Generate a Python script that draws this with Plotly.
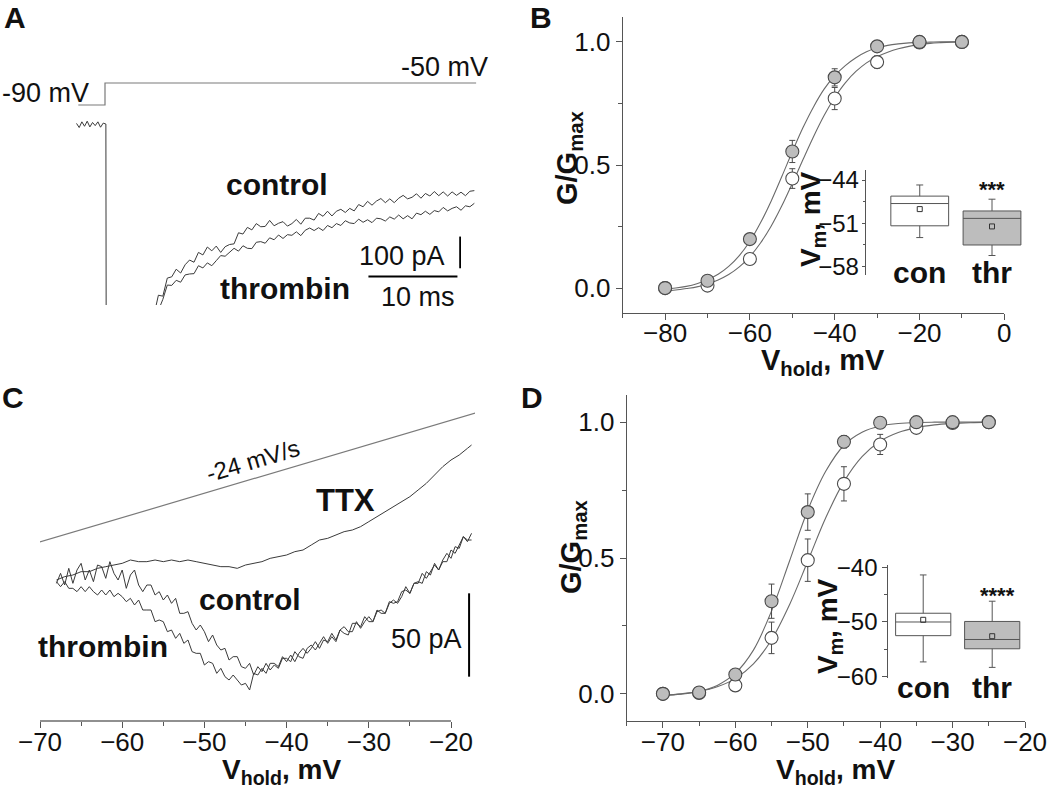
import plotly.graph_objects as go

W, H = 1050, 789
FONT = "Liberation Sans, Arial, Helvetica, sans-serif"
TXT = "#111111"
AX = "#555555"
TRACE = "#3a3a3a"
LIGHT = "#7a7a7a"
FILL_GRAY = "#bdbdbd"

# ---------------- Panel A : Na current at a step to -50 mV ----------------
a_step_t = [-3.0, 0.0, 0.0, 41.7]          # ms
a_step_mv = [-90, -90, -50, -50]           # mV
a_base_t = [-3.2, -2.9, -2.6, -2.3, -2.0, -1.7, -1.4, -1.1, -0.8, -0.5, -0.2, 0.1]
a_base_pa = [5, -8, 10, -4, 12, -6, 8, -2, 10, -7, 6, 3]
a_peak_t = [0.25, 3.0]
a_peak_pa = [-3000, -1200]
a_t = [5.5, 6.0, 6.5, 7.0, 7.5, 8.0, 8.5, 9.0, 9.5, 10.0, 10.5, 11.0, 11.5, 12.0, 12.5,
       13.0, 13.5, 14.0, 14.5, 15.0, 15.5, 16.0, 16.5, 17.0, 17.5, 18.0, 18.5, 19.0, 19.5,
       20.0, 20.5, 21.0, 21.5, 22.0, 22.5, 23.0, 23.5, 24.0, 24.5, 25.0, 25.5, 26.0, 26.5,
       27.0, 27.5, 28.0, 28.5, 29.0, 29.5, 30.0, 30.5, 31.0, 31.5, 32.0, 32.5, 33.0, 33.5,
       34.0, 34.5, 35.0, 35.5, 36.0, 36.5, 37.0, 37.5, 38.0, 38.5, 39.0, 39.5, 40.0, 40.5,
       41.0, 41.5]
a_control_pa = [-600, -537, -540, -483, -479, -455, -467, -441, -426, -433,
                -402, -410, -385, -397, -382, -402, -384, -377, -375, -340,
                -344, -323, -331, -311, -321, -320, -301, -318, -310, -305,
                -319, -311, -298, -313, -294, -294, -300, -279, -288, -272,
                -287, -272, -266, -276, -263, -271, -251, -258, -241, -253,
                -240, -232, -245, -233, -245, -231, -222, -233, -228, -217,
                -231, -216, -224, -210, -223, -211, -224, -211, -222, -212,
                -223, -209, -207]
a_thrombin_pa = [-640, -585, -550, -505, -506, -490, -496, -473, -470, -469,
                 -444, -451, -435, -444, -428, -412, -414, -402, -389, -398,
                 -381, -389, -390, -370, -368, -373, -356, -362, -347, -358,
                 -346, -348, -337, -349, -332, -325, -333, -324, -333, -317,
                 -324, -311, -317, -302, -309, -311, -297, -307, -299, -308,
                 -294, -296, -303, -290, -297, -284, -296, -286, -296, -278,
                 -283, -272, -282, -270, -274, -260, -271, -263, -258, -269,
                 -255, -258, -247]
a_bar_t = 39.9          # ms, position of vertical scale bar
a_bar_pa = [-452, -352]  # 100 pA
a_hbar_t = [29.6, 39.6]  # 10 ms
a_hbar_pa = -478

# ---------------- Panel B : activation curves ----------------
b_v = [-80, -70, -60, -50, -40, -30, -20, -10]
b_con = [0.0, 0.01, 0.118, 0.445, 0.770, 0.918, 0.998, 1.0]
b_con_err = [0.01, 0.015, 0.02, 0.04, 0.045, 0.025, 0.012, 0.0]
b_thr = [0.0, 0.03, 0.199, 0.555, 0.856, 0.982, 1.0, 1.0]
b_thr_err = [0.01, 0.015, 0.01, 0.045, 0.035, 0.015, 0.012, 0.0]
b_fit_v = [-80, -77.5, -75, -72.5, -70, -67.5, -65, -62.5, -60, -57.5, -55, -52.5, -50,
           -47.5, -45, -42.5, -40, -37.5, -35, -32.5, -30, -27.5, -25, -22.5, -20,
           -17.5, -15, -12.5, -10]
b_fit_thr = [-0.005, 0.0, 0.007, 0.018, 0.034, 0.056, 0.088, 0.132, 0.19, 0.265, 0.353,
             0.452, 0.554, 0.651, 0.736, 0.808, 0.863, 0.904, 0.936, 0.960, 0.976, 0.986,
             0.992, 0.996, 0.998, 0.999, 1.0, 1.0, 1.0]
b_fit_con = [-0.012, -0.008, -0.002, 0.005, 0.017, 0.033, 0.055, 0.086, 0.128, 0.183,
             0.251, 0.333, 0.425, 0.521, 0.615, 0.701, 0.774, 0.834, 0.880, 0.915, 0.940,
             0.958, 0.972, 0.982, 0.989, 0.994, 0.997, 0.999, 1.0]
# inset box statistics (Vm, mV)
bi_q1 = [-51.4, -54.5]
bi_med = [-47.8, -50.2]
bi_q3 = [-46.6, -49.0]
bi_lo = [-53.3, -56.2]
bi_hi = [-44.8, -47.1]
bi_mean = [-48.7, -51.5]

# ---------------- Panel C : ramp currents ----------------
c_ramp_v = [-70.8, -16.5]
c_v = [-68.0, -67.5, -67.0, -66.5, -66.0, -65.5, -65.0, -64.5, -64.0, -63.5,
       -63.0, -62.5, -62.0, -61.5, -61.0, -60.5, -60.0, -59.5, -59.0, -58.5,
       -58.0, -57.5, -57.0, -56.5, -56.0, -55.5, -55.0, -54.5, -54.0, -53.5,
       -53.0, -52.5, -52.0, -51.5, -51.0, -50.5, -50.0, -49.5, -49.0, -48.5,
       -48.0, -47.5, -47.0, -46.5, -46.0, -45.5, -45.0, -44.5, -44.0, -43.5,
       -43.0, -42.5, -42.0, -41.5, -41.0, -40.5, -40.0, -39.5, -39.0, -38.5,
       -38.0, -37.5, -37.0, -36.5, -36.0, -35.5, -35.0, -34.5, -34.0, -33.5,
       -33.0, -32.5, -32.0, -31.5, -31.0, -30.5, -30.0, -29.5, -29.0, -28.5,
       -28.0, -27.5, -27.0, -26.5, -26.0, -25.5, -25.0, -24.5, -24.0, -23.5,
       -23.0, -22.5, -22.0, -21.5, -21.0, -20.5, -20.0, -19.5, -19.0, -18.5,
       -18.0, -17.5]
c_control_pa = [-2, 4, -3, 7, -2, 6, 10, 0, 6, -1,
                9, 8, 1, 11, 4, 0, 6, -5, 3, 6,
                -3, -7, -3, -3, -9, -7, -12, -9, -14, -11,
                -20, -20, -19, -26, -30, -27, -31, -37, -33, -39,
                -42, -41, -48, -46, -46, -52, -53, -50, -57, -52,
                -55, -50, -54, -51, -53, -47, -47, -49, -43, -46,
                -47, -41, -39, -42, -38, -34, -38, -34, -37, -30,
                -28, -31, -31, -25, -29, -25, -22, -25, -18, -20,
                -20, -13, -14, -13, -7, -6, -8, -2, -2, 4,
                1, 5, 9, 6, 12, 16, 13, 20, 19, 26,
                23, 28]
c_thrombin_pa = [-1, -4, -1, -5, -5, -7, -4, -7, -4, -7,
                 -9, -6, -9, -6, -10, -8, -10, -13, -11, -15,
                 -12, -18, -18, -18, -25, -24, -25, -31, -30, -35,
                 -32, -38, -36, -43, -44, -44, -51, -49, -50, -56,
                 -53, -58, -60, -57, -60, -63, -62, -66, -56, -57,
                 -53, -56, -50, -50, -52, -46, -49, -45, -49, -44,
                 -41, -44, -41, -37, -41, -36, -37, -32, -36, -30,
                 -32, -33, -26, -26, -28, -22, -25, -25, -19, -18,
                 -20, -14, -12, -14, -10, -4, -8, -2, -1, -2,
                 5, 3, 10, 6, 11, 11, 18, 16, 21, 26,
                 24, 24]
c_ttx_v = [-68, -67, -66, -65, -64, -63, -62, -61, -60, -59,
           -58, -57, -56, -55, -54, -53, -52, -51, -50, -49,
           -48, -47, -46, -45, -44, -43, -42, -41, -40, -39,
           -38, -37, -36, -35, -34, -33, -32, -31, -30, -29,
           -28, -27, -26, -25, -24, -23, -22, -21, -20, -19,
           -18, -17.5]
c_ttx_pa = [0, 2, 3, 5, 5, 7, 8, 9, 10, 12,
            11, 11, 12, 11, 12, 11, 12, 11, 10, 9,
            8, 8, 7, 9, 10, 11, 13, 14, 15, 17,
            18, 21, 24, 25, 27, 29, 30, 32, 35, 38,
            41, 44, 47, 50, 54, 58, 63, 68, 72, 75,
            79, 81]
c_bar_v = -17.8
c_bar_pa = [-58, -8]   # 50 pA
c_ticks = [-70, -60, -50, -40, -30, -20]

# ---------------- Panel D : activation curves ----------------
d_v = [-70, -65, -60, -55, -50, -45, -40, -35, -30, -25]
d_con = [0.0, 0.003, 0.031, 0.206, 0.492, 0.773, 0.918, 0.979, 0.997, 1.0]
d_con_err = [0.01, 0.008, 0.015, 0.058, 0.078, 0.063, 0.037, 0.01, 0.005, 0.0]
d_thr = [0.0, 0.005, 0.071, 0.341, 0.669, 0.928, 0.998, 1.0, 1.0, 1.0]
d_thr_err = [0.01, 0.01, 0.01, 0.063, 0.067, 0.023, 0.012, 0.005, 0.01, 0.0]
d_fit_v = [-70, -67.5, -65, -62.5, -60, -57.5, -55, -52.5, -50, -47.5, -45, -42.5, -40,
           -37.5, -35, -32.5, -30, -27.5, -25]
d_fit_thr = [-0.006, -0.001, 0.009, 0.031, 0.076, 0.161, 0.305, 0.49, 0.676, 0.82, 0.915,
             0.963, 0.986, 0.995, 0.999, 1.0, 1.0, 1.0, 1.0]
d_fit_con = [-0.005, 0.0, 0.009, 0.026, 0.056, 0.110, 0.199, 0.329, 0.488, 0.649, 0.781,
             0.873, 0.930, 0.962, 0.980, 0.990, 0.995, 0.998, 1.0]
di_q1 = [-52.5, -54.9]
di_med = [-50.0, -53.2]
di_q3 = [-48.4, -49.9]
di_lo = [-57.3, -58.3]
di_hi = [-41.4, -46.2]
di_mean = [-49.6, -52.6]

groups = ["con", "thr"]
group_pos = [1, 2]


# ---------------- helpers ----------------
def fx(px):
    return px / W


def fy(py):
    return 1 - py / H


fig = go.Figure()


def line(x, y, xa, ya, color=TRACE, width=1.0, shape="linear"):
    fig.add_trace(go.Scatter(x=x, y=y, xaxis=xa, yaxis=ya, mode="lines",
                             line=dict(color=color, width=width, shape=shape),
                             showlegend=False, hoverinfo="skip"))


# Panel A
line(a_step_t, a_step_mv, "x", "y2", color=LIGHT, width=1.2)
line(a_base_t + a_peak_t + a_t, a_base_pa + a_peak_pa + a_control_pa, "x", "y", width=1.0)
line(a_peak_t + a_t, a_peak_pa + a_thrombin_pa, "x", "y", width=1.0)
line([a_bar_t, a_bar_t], a_bar_pa, "x", "y", color="#000", width=1.8)
line(a_hbar_t, [a_hbar_pa, a_hbar_pa], "x", "y", color="#000", width=1.8)


# Panels B and D
def act_panel(xa, ya, v, fv, fcon, fthr, con, con_err, thr, thr_err):
    line(fv, fcon, xa, ya, color="#6a6a6a", width=1.1, shape="spline")
    line(fv, fthr, xa, ya, color="#6a6a6a", width=1.1, shape="spline")
    fig.add_trace(go.Scatter(x=v, y=con, xaxis=xa, yaxis=ya, mode="markers",
                             marker=dict(size=13, color="white", line=dict(color="#4a4a4a", width=1.1)),
                             error_y=dict(type="data", array=con_err, color="#4a4a4a", thickness=1, width=3),
                             showlegend=False, hoverinfo="skip"))
    fig.add_trace(go.Scatter(x=v, y=thr, xaxis=xa, yaxis=ya, mode="markers",
                             marker=dict(size=13, color=FILL_GRAY, line=dict(color="#4a4a4a", width=1.1)),
                             error_y=dict(type="data", array=thr_err, color="#4a4a4a", thickness=1, width=3),
                             showlegend=False, hoverinfo="skip"))


act_panel("x2", "y3", b_v, b_fit_v, b_fit_con, b_fit_thr, b_con, b_con_err, b_thr, b_thr_err)
act_panel("x5", "y7", d_v, d_fit_v, d_fit_con, d_fit_thr, d_con, d_con_err, d_thr, d_thr_err)


def inset(xa, ya, q1, med, q3, lo, hi, mean):
    fills = ["white", FILL_GRAY]
    for i in range(2):
        fig.add_trace(go.Box(x=[group_pos[i]], q1=[q1[i]], median=[med[i]], q3=[q3[i]],
                             lowerfence=[lo[i]], upperfence=[hi[i]], xaxis=xa, yaxis=ya,
                             width=0.8, whiskerwidth=0.12, fillcolor=fills[i],
                             line=dict(color="#555555", width=1), boxpoints=False,
                             showlegend=False, hoverinfo="skip"))
    fig.add_trace(go.Scatter(x=group_pos, y=mean, xaxis=xa, yaxis=ya, mode="markers",
                             marker=dict(symbol="square-open", size=5, color="#333",
                                         line=dict(width=1, color="#333")),
                             showlegend=False, hoverinfo="skip"))


inset("x3", "y4", bi_q1, bi_med, bi_q3, bi_lo, bi_hi, bi_mean)
inset("x6", "y8", di_q1, di_med, di_q3, di_lo, di_hi, di_mean)

# Panel C
line(c_ramp_v, c_ramp_v, "x4", "y6", color=LIGHT, width=1.2)
line(c_ttx_v, c_ttx_pa, "x4", "y5", width=1.0)
line(c_v, c_control_pa, "x4", "y5", width=1.0)
line(c_v, c_thrombin_pa, "x4", "y5", width=1.0)
line([c_bar_v, c_bar_v], c_bar_pa, "x4", "y5", color="#000", width=2)

# ---------------- axes ----------------
hidden = dict(visible=False, showgrid=False, zeroline=False)
tickfont = dict(family=FONT, size=26, color=TXT)
insetfont = dict(family=FONT, size=24, color=TXT)


def main_axis(domain, rng, **kw):
    d = dict(domain=domain, range=rng, showgrid=False, zeroline=False, showline=True,
             linecolor=AX, linewidth=1, ticks="outside", ticklen=6, tickcolor=AX,
             tickwidth=1, tickfont=tickfont, automargin=False)
    d.update(kw)
    return d


layout = dict(
    width=W, height=H, margin=dict(l=0, r=0, t=0, b=0, pad=0, autoexpand=False),
    paper_bgcolor="white", plot_bgcolor="rgba(0,0,0,0)", showlegend=False,
    font=dict(family=FONT, color=TXT),
    # Panel A
    xaxis=dict(hidden, domain=[fx(70), fx(480)], range=[-3.933, 42.135], anchor="y"),
    yaxis=dict(hidden, domain=[fy(305), fy(40)], range=[-567.9, 268.2], anchor="x"),
    yaxis2=dict(hidden, overlaying="y", range=[-453.6, 28.2], anchor="x"),
    # Panel B
    xaxis2=main_axis([fx(622.7), fx(1004.3)], [-90, 0], anchor="y3",
                     tickvals=[-80, -60, -40, -20, 0], ticklabelstandoff=-9,
                     minor=dict(tickvals=[-90, -70, -50, -30, -10], ticks="outside", ticklen=4, tickcolor=AX)),
    yaxis3=main_axis([fy(312.7), fy(17.3)], [-0.1, 1.1], anchor="x2",
                     tickvals=[0, 0.5, 1.0], ticktext=["0.0", "0.5", "1.0"],
                     minor=dict(tickvals=[0.25, 0.75], ticks="outside", ticklen=4, tickcolor=AX)),
    # Panel B inset
    xaxis3=dict(hidden, domain=[fx(865.7), fx(1030)], range=[0.252, 2.526], anchor="y4"),
    yaxis4=main_axis([fy(275), fy(170)], [-59.35, -42.38], anchor="x3", tickfont=insetfont,
                     tickvals=[-58, -51, -44], ticklen=3, ticklabelstandoff=-2,
                     minor=dict(tickvals=[-54.5, -47.5], ticks="outside", ticklen=2, tickcolor=AX)),
    # Panel C
    xaxis4=main_axis([fx(40), fx(475)], [-70, -17.08], anchor="y5", showline=False,
                     tickvals=c_ticks, ticklabelstandoff=-8,
                     minor=dict(tickvals=[-65, -55, -45, -35, -25], ticks="outside", ticklen=4, tickcolor=AX)),
    yaxis5=dict(hidden, domain=[fy(721), fy(400)], range=[-84.6, 108], anchor="x4"),
    yaxis6=dict(hidden, overlaying="y5", range=[-143.5, -11.7], anchor="x4"),
    # Panel D
    xaxis5=main_axis([fx(626.7), fx(1025)], [-75, -20], anchor="y7",
                     tickvals=[-70, -60, -50, -40, -30, -20], ticklabelstandoff=-8,
                     minor=dict(tickvals=[-75, -65, -55, -45, -35, -25], ticks="outside", ticklen=4, tickcolor=AX)),
    yaxis7=main_axis([fy(721), fy(395)], [-0.1, 1.1], anchor="x5",
                     tickvals=[0, 0.5, 1.0], ticktext=["0.0", "0.5", "1.0"],
                     minor=dict(tickvals=[0.25, 0.75], ticks="outside", ticklen=4, tickcolor=AX)),
    # Panel D inset
    xaxis6=dict(hidden, domain=[fx(888.3), fx(1030)], range=[0.494, 2.548], anchor="y8"),
    yaxis8=main_axis([fy(678), fy(565)], [-60.24, -39.58], anchor="x6", tickfont=insetfont,
                     tickvals=[-60, -50, -40], ticklen=5,
                     minor=dict(tickvals=[-55, -45], ticks="outside", ticklen=3, tickcolor=AX)),
)
fig.update_layout(**layout)

# C axis line spanning only the labelled range
fig.add_shape(type="line", xref="x4", yref="y5 domain", x0=c_ticks[0], x1=c_ticks[-1], y0=0, y1=0,
              line=dict(color="#222", width=1.2))

# ---------------- text ----------------
anns = []


def ann(text, x, y, size, bold=False, xanchor="center", yanchor="middle", angle=0,
        xref="paper", yref="paper", color=TXT):
    t = "<b>%s</b>" % text if bold else text
    anns.append(dict(text=t, x=x, y=y, xref=xref, yref=yref, showarrow=False,
                     xanchor=xanchor, yanchor=yanchor, textangle=angle,
                     font=dict(family=FONT, size=size, color=color)))


# panel letters
ann("A", fx(15), fy(18), 30, True)
ann("B", fx(541), fy(17), 30, True)
ann("C", fx(13), fy(397), 30, True)
ann("D", fx(532), fy(397), 30, True)

# Panel A texts
ann("-90 mV", fx(0), fy(93), 27, xanchor="left")
ann("-50 mV", fx(444), fy(67), 27)
ann("control", fx(277), fy(185), 30, True)
ann("thrombin", fx(285), fy(288), 30, True)
ann("100 pA", fx(402), fy(256), 27)
ann("10 ms", fx(418), fy(297), 27)

# Panel B texts
ann("V<sub>hold</sub>, mV", fx(823), fy(362), 29, True)
ann("G/G<sub>max</sub>", fx(569), fy(158), 29, True, angle=-90)
ann("V<sub>m</sub>, mV", fx(812), fy(219), 28, True, angle=-90)
ann("con", group_pos[0], fy(273), 30, True, xref="x3")
ann("thr", group_pos[1], fy(273), 30, True, xref="x3")
ann("***", group_pos[1], -45.6, 22, True, xref="x3", yref="y4")

# Panel C texts
ann("-24 mV/s", fx(253), fy(461), 24, angle=-16.5)
ann("TTX", fx(346), fy(500), 31, True)
ann("control", fx(250), fy(599), 30, True)
ann("thrombin", fx(103), fy(646), 30, True)
ann("50 pA", fx(464), fy(639), 27, xanchor="right")
ann("V<sub>hold</sub>, mV", fx(282), fy(771), 28, True)

# Panel D texts
ann("V<sub>hold</sub>, mV", fx(836), fy(771), 28, True)
ann("G/G<sub>max</sub>", fx(573), fy(547), 29, True, angle=-90)
ann("V<sub>m</sub>, mV", fx(829), fy(626), 28, True, angle=-90)
ann("con", group_pos[0], fy(687), 30, True, xref="x6")
ann("thr", group_pos[1], fy(687), 30, True, xref="x6")
ann("****", 2.07, -45.2, 22, True, xref="x6", yref="y8")

fig.update_layout(annotations=anns)
fig.write_html("out.html", config={"displayModeBar": False},
               post_script="document.body.style.margin='0px';document.body.style.padding='0px';")
